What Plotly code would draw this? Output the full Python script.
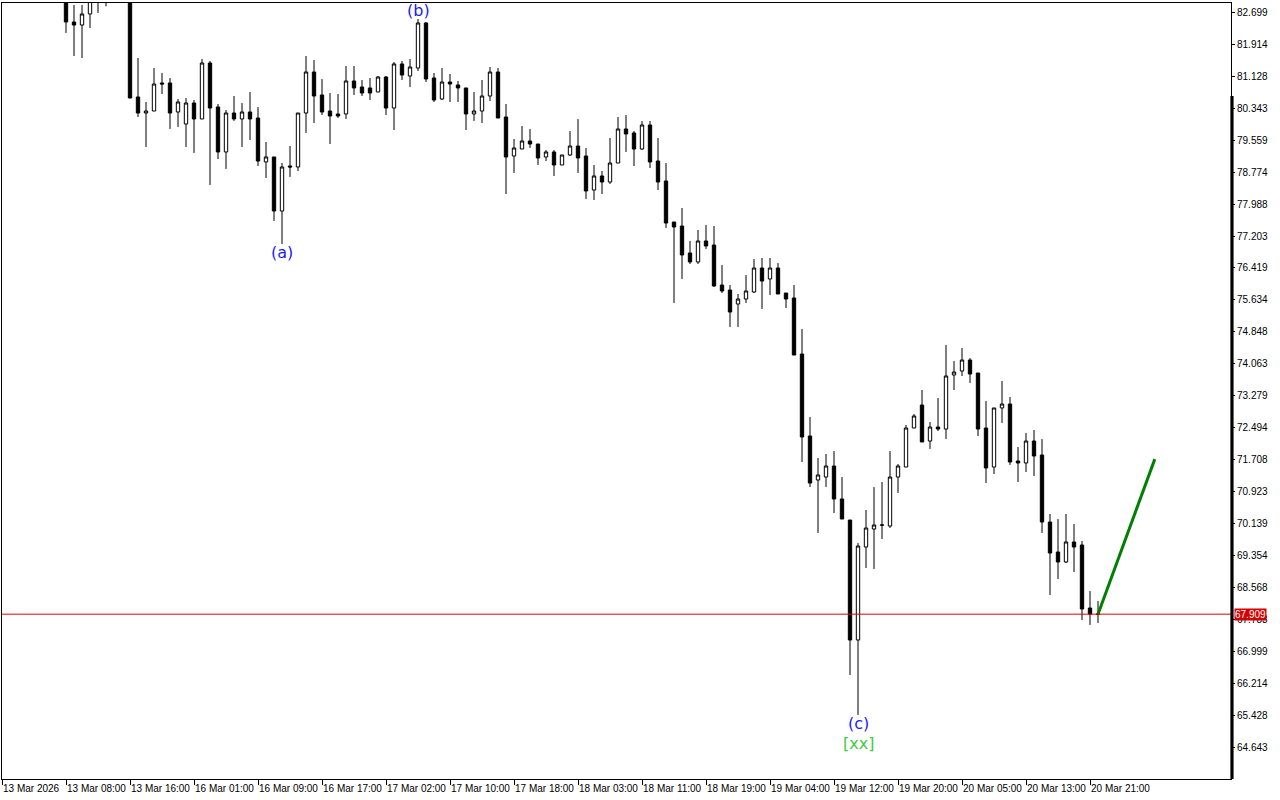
import plotly.graph_objects as go

# ---- data (hourly bars, bar index 0 = 13 Mar 2026 00:00) ----
first_bar = 8
opens = [83.40, 82.465, 82.391, 82.662, 83.25, 83.45, 83.30, 83.60, 83.45, 80.622,
         80.228, 80.277, 80.966, 80.966, 80.253, 79.958, 80.474, 80.081, 81.457, 80.376,
         79.270, 80.228, 80.081, 80.253, 80.105, 79.024, 79.147, 77.819, 78.925, 78.901,
         80.228, 81.236, 80.671, 80.277, 80.204, 80.204, 81.015, 80.867, 80.843, 80.744,
         81.113, 80.351, 81.433, 81.138, 81.334, 82.441, 81.089, 80.572, 80.990, 80.917,
         80.843, 80.204, 80.277, 80.646, 81.236, 80.130, 79.171, 79.343, 79.540, 79.466,
         79.147, 79.270, 78.950, 79.196, 79.417, 79.171, 78.335, 78.680, 78.532, 78.999,
         79.835, 79.737, 79.343, 79.933, 79.048, 78.557, 77.549, 77.450, 76.787, 76.566,
         77.082, 76.983, 76.000, 75.877, 75.533, 75.656, 75.828, 76.418, 76.148, 76.418,
         75.803, 75.681, 74.304, 72.288, 71.207, 71.280, 71.551, 70.740, 70.223, 67.274,
         69.560, 70.002, 70.100, 70.076, 71.280, 71.526, 72.485, 73.050, 72.165, 72.509,
         72.460, 73.788, 73.886, 74.156, 73.837, 72.485, 71.526, 72.977, 73.075, 71.674,
         71.625, 72.165, 71.821, 70.174, 69.437, 69.191, 69.683, 69.609, 68.060, 67.909]
highs = [83.55, 82.883, 82.883, 83.30, 83.60, 83.65, 83.80, 83.90, 83.60, 81.580,
         80.499, 81.334, 81.211, 81.089, 80.572, 80.597, 80.548, 81.556, 81.506, 80.449,
         80.302, 80.646, 80.474, 80.744, 80.376, 79.515, 79.147, 78.999, 79.417, 80.228,
         81.629, 81.531, 81.064, 80.720, 80.695, 81.384, 81.384, 81.039, 81.089, 81.138,
         81.138, 81.482, 81.506, 81.556, 82.539, 82.465, 81.211, 81.334, 81.187, 81.015,
         80.843, 80.744, 81.039, 81.359, 81.334, 80.449, 79.589, 79.909, 79.835, 79.466,
         79.319, 79.319, 79.196, 79.786, 80.081, 79.368, 78.950, 78.802, 79.614, 80.130,
         80.179, 79.786, 80.032, 80.032, 79.614, 78.999, 77.549, 77.893, 77.082, 77.352,
         77.475, 77.450, 76.492, 76.000, 75.779, 76.246, 76.639, 76.664, 76.664, 76.541,
         75.803, 76.000, 74.919, 72.755, 71.747, 71.846, 71.920, 71.280, 70.223, 69.658,
         70.469, 71.035, 71.157, 71.920, 71.600, 72.559, 72.829, 73.419, 72.632, 73.222,
         74.525, 74.132, 74.451, 74.206, 73.837, 73.149, 72.977, 73.640, 73.247, 72.018,
         72.362, 72.436, 72.215, 70.371, 70.248, 70.371, 70.125, 69.707, 68.478, 68.232]
lows = [82.195, 81.629, 81.580, 82.318, 82.686, 82.85, 83.00, 83.20, 80.590, 80.130,
        79.392, 80.277, 80.695, 79.835, 79.884, 79.392, 79.245, 80.081, 78.458, 79.097,
        78.852, 80.032, 79.392, 79.565, 78.925, 78.630, 77.573, 77.008, 78.655, 78.802,
        79.737, 79.982, 80.179, 79.466, 80.105, 80.081, 80.671, 80.646, 80.548, 80.744,
        80.179, 79.810, 81.039, 80.867, 81.261, 80.990, 80.499, 80.548, 80.499, 80.499,
        79.810, 80.032, 79.982, 80.523, 80.105, 78.237, 78.753, 79.343, 79.368, 78.950,
        79.048, 78.680, 78.950, 79.171, 78.753, 78.114, 78.090, 78.237, 78.483, 78.999,
        79.270, 78.925, 79.319, 78.876, 78.335, 77.401, 75.558, 76.148, 76.516, 76.516,
        76.885, 75.951, 75.803, 74.968, 74.968, 75.558, 75.803, 75.410, 75.754, 75.779,
        75.435, 74.279, 71.649, 71.035, 69.904, 71.035, 70.395, 70.248, 66.413, 65.430,
        69.043, 69.019, 69.756, 70.027, 70.887, 71.526, 72.485, 72.141, 71.969, 72.411,
        72.215, 73.419, 73.763, 73.591, 72.288, 71.133, 71.354, 72.608, 71.575, 71.157,
        71.403, 71.305, 69.904, 68.380, 68.773, 69.166, 68.945, 67.765, 67.642, 67.691]
closes = [82.465, 82.391, 82.662, 83.10, 83.45, 83.30, 83.60, 83.45, 80.597, 80.228,
          80.277, 80.941, 80.941, 80.228, 80.499, 80.474, 80.081, 81.457, 80.351, 79.270,
          80.228, 80.081, 80.253, 80.081, 79.048, 79.147, 77.819, 78.901, 78.901, 80.228,
          81.236, 80.646, 80.253, 80.154, 80.154, 81.015, 80.843, 80.720, 80.720, 81.113,
          80.351, 81.433, 81.162, 81.359, 82.441, 81.064, 80.548, 80.990, 80.941, 80.843,
          80.204, 80.277, 80.646, 81.236, 80.105, 79.147, 79.368, 79.540, 79.466, 79.122,
          79.270, 78.950, 79.196, 79.417, 79.122, 78.311, 78.680, 78.532, 78.999, 79.835,
          79.712, 79.343, 79.933, 79.024, 78.532, 77.524, 77.426, 76.738, 76.566, 77.082,
          76.959, 75.976, 75.853, 75.336, 75.656, 75.853, 76.418, 76.098, 76.418, 75.779,
          75.656, 74.279, 72.264, 71.133, 71.330, 71.551, 70.740, 70.248, 67.274, 69.584,
          70.027, 70.100, 70.100, 71.280, 71.551, 72.485, 72.780, 72.141, 72.509, 72.460,
          73.763, 73.861, 74.156, 73.812, 72.460, 71.502, 72.977, 73.075, 71.649, 71.625,
          72.165, 71.797, 70.174, 69.412, 69.191, 69.683, 69.560, 68.036, 67.909, 67.909]

time_ticks = [0, 8, 16, 24, 32, 40, 48, 56, 64, 72, 80, 88, 96, 104, 112, 120, 128, 136]
time_labels = ["13 Mar 2026", "13 Mar 08:00", "13 Mar 16:00", "16 Mar 01:00", "16 Mar 09:00",
               "16 Mar 17:00", "17 Mar 02:00", "17 Mar 10:00", "17 Mar 18:00", "18 Mar 03:00",
               "18 Mar 11:00", "18 Mar 19:00", "19 Mar 04:00", "19 Mar 12:00", "19 Mar 20:00",
               "20 Mar 05:00", "20 Mar 13:00", "20 Mar 21:00"]
price_labels = ["82.699", "81.914", "81.128", "80.343", "79.559", "78.774", "77.988", "77.203",
                "76.419", "75.634", "74.848", "74.063", "73.279", "72.494", "71.708", "70.923",
                "70.139", "69.354", "68.568", "67.783", "66.999", "66.214", "65.428", "64.643"]
current_price = 67.909
wave_labels = ["(a)", "(b)", "(c)", "[xx]"]
wave_x = [35, 52, 107, 107]
wave_y = [76.81, 82.76, 65.23, 64.74]
wave_colors = ["#1a1aff", "#1a1aff", "#1a1aff", "#3ccc3c"]
proj_x = [137, 144.1]
proj_y = [67.909, 71.72]

xs = list(range(first_bar, first_bar + len(opens)))

fig = go.Figure()
fig.add_trace(go.Candlestick(
    x=xs, open=opens, high=highs, low=lows, close=closes,
    increasing=dict(line=dict(color="black", width=1), fillcolor="white"),
    decreasing=dict(line=dict(color="black", width=1), fillcolor="black"),
    whiskerwidth=0, showlegend=False, hoverinfo="skip"))

fig.add_trace(go.Scatter(x=proj_x, y=proj_y, mode="lines",
                         line=dict(color="#008000", width=3), showlegend=False, hoverinfo="skip"))

fig.add_shape(type="line", xref="paper", x0=0, x1=1, yref="y", y0=current_price, y1=current_price,
              line=dict(color="#e00000", width=1))
# thick scale bar on the right border (lower part of the price scale)
fig.add_shape(type="rect", xref="paper", x0=0.9995, x1=1.0021, yref="paper", y0=0, y1=0.88,
              line=dict(width=0), fillcolor="black", layer="above")

for t, x, y, c in zip(wave_labels, wave_x, wave_y, wave_colors):
    fig.add_annotation(x=x, y=y, text=t, showarrow=False, xanchor="center", yanchor="middle",
                       font=dict(family="DejaVu Sans", size=16, color=c))

fig.add_annotation(x=1, xref="paper", y=current_price, yref="y", text=f"{current_price:.3f}",
                   showarrow=False, xanchor="left", yanchor="middle", xshift=3,
                   bgcolor="#d40000", borderpad=0,
                   font=dict(family="Liberation Sans", size=10, color="white"))

fig.update_layout(
    width=1280, height=800,
    margin=dict(l=2, r=49, t=3, b=21, autoexpand=False),
    paper_bgcolor="white", plot_bgcolor="white",
    boxgap=0.4,
    font=dict(family="Liberation Sans", size=10, color="black"),
    xaxis=dict(range=[0, 153.625], tickvals=time_ticks, ticktext=time_labels,
               ticks="outside", ticklen=5, tickcolor="black", ticklabelposition="outside right",
               tickangle=0, automargin=False,
               showgrid=False, zeroline=False, showline=True, linecolor="black", linewidth=1,
               mirror=True, rangeslider=dict(visible=False),
               tickfont=dict(family="Liberation Sans", size=10, color="black")),
    yaxis=dict(range=[63.857, 82.932], side="right", automargin=False,
               tickvals=[float(v) for v in price_labels], ticktext=price_labels,
               ticks="outside", ticklen=3, tickcolor="black",
               showgrid=False, zeroline=False, showline=True, linecolor="black", linewidth=1,
               mirror=True,
               tickfont=dict(family="Liberation Sans", size=10, color="black")),
)

fig.write_html("out.html", config={"displayModeBar": False},
               post_script="document.body.style.margin='0';document.body.style.overflow='hidden';")
